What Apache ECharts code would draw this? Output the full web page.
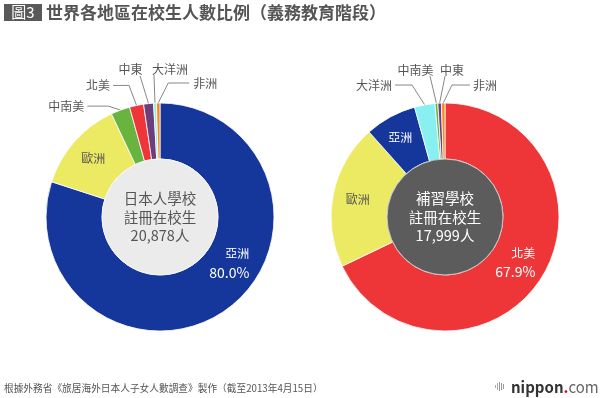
<!DOCTYPE html>
<html>
<head>
<meta charset="utf-8">
<script src="https://cdn.jsdelivr.net/npm/echarts@6/dist/echarts.min.js"></script>
<style>
html,body{margin:0;padding:0;background:#fff;}
#chart{width:600px;height:398px;}
</style>
</head>
<body>
<div id="chart"></div>
<script>
// ---- data ----
const leftNames = ['亞洲', '歐洲', '中南美', '北美', '中東', '大洋洲', '非洲'];
const leftValues = [80.0, 13.0, 2.7, 2.0, 1.4, 0.4, 0.5];
const rightNames = ['北美', '歐洲', '亞洲', '大洋洲', '中南美', '中東', '非洲'];
const rightValues = [67.9, 20.5, 7.3, 2.9, 0.4, 0.5, 0.5];
const leftCenterText = ['日本人學校', '註冊在校生', '20,878人'];
const rightCenterText = ['補習學校', '註冊在校生', '17,999人'];
const titleText = '世界各地區在校生人數比例（義務教育階段）';
const figLabel = '圖3';
const sourceText = '根據外務省《旅居海外日本人子女人數調查》製作（截至2013年4月15日）';

// ---- styles ----
const FONT = '"Noto Sans CJK TC", "Noto Sans CJK SC", sans-serif';
const regionColors = {
  '亞洲': '#15369a', '歐洲': '#ece963', '中南美': '#69b33f', '北美': '#ee3638',
  '中東': '#6c3e7c', '大洋洲': '#88f0f0', '非洲': '#f68a1f'
};
const insideLabels = {
  left: {'亞洲': {color: '#fff', pct: true, dx: 17, dy: -26}, '歐洲': {color: '#555', dx: 0, dy: 0}},
  right: {'北美': {color: '#fff', pct: true, dx: -5, dy: -2}, '歐洲': {color: '#555', dx: 0, dy: 0}, '亞洲': {color: '#fff', dx: -2, dy: -1}}
};
// outside label guides, offsets relative to slice edge point
const outsideLayout = {
  left: {
    '中南美': {pts: [[-12, -4], [-33, -4]], text: [-36, -4], align: 'right'},
    '北美': {pts: [[-7.5, -20], [-23.5, -20]], text: [-26.5, -20], align: 'right'},
    '中東': {pts: [[-8.5, -27.6]], text: [-18, -34], align: 'center'},
    '大洋洲': {pts: [[-1, -28]], text: [-3, -34], align: 'left'},
    '非洲': {pts: [[10, -20], [31, -20]], text: [35, -20], align: 'left'}
  },
  right: {
    '大洋洲': {pts: [[-12.7, -19.8], [-29.7, -19.8]], text: [-32.7, -19.8], align: 'right'},
    '中南美': {pts: [[-6.4, -27.3]], text: [-21, -33.3], align: 'center'},
    '中東': {pts: [[5.4, -27]], text: [12.4, -33], align: 'center'},
    '非洲': {pts: [[8.8, -18], [26.8, -18]], text: [29.8, -18], align: 'left'}
  }
};

function buildData(names, values, side) {
  return names.map((n, i) => {
    const ins = insideLabels[side][n];
    const item = {name: n, value: values[i], itemStyle: {color: regionColors[n]}};
    if (ins) {
      item.label = {
        position: 'inside', color: ins.color, fontSize: 12, fontFamily: FONT,
        formatter: ins.pct ? (p => '{a|' + p.name + '}\n{p|' + Number(p.value).toFixed(1) + '%}') : '{b}',
        rich: {
          a: {color: ins.color, fontSize: 12, fontFamily: FONT, align: 'right', lineHeight: 19},
          p: {color: ins.color, fontSize: 14, fontFamily: FONT, align: 'right', lineHeight: 19}
        }
      };
      item.labelLine = {show: false};
    } else {
      item.label = {position: 'outside', color: '#555', fontSize: 12, fontFamily: FONT, formatter: '{b}'};
      item.labelLine = {show: true, length: 10, length2: 10, lineStyle: {color: '#888', width: 1}};
    }
    return item;
  });
}

function makeLayout(names, side) {
  return function (params) {
    const n = names[params.dataIndex];
    const ins = insideLabels[side][n];
    if (ins) return {dx: ins.dx, dy: ins.dy};
    const cfg = outsideLayout[side][n];
    if (!cfg || !params.labelLinePoints) return {};
    const e = params.labelLinePoints[0];
    const pts = [[e[0], e[1]]].concat(cfg.pts.map(p => [e[0] + p[0], e[1] + p[1]]));
    return {
      x: e[0] + cfg.text[0], y: e[1] + cfg.text[1],
      align: cfg.align, verticalAlign: 'middle',
      labelLinePoints: pts
    };
  };
}

function donut(center, names, values, side) {
  return {
    type: 'pie', center: center, radius: [58, 114], startAngle: 90, clockwise: true,
    avoidLabelOverlap: false, silent: true, animation: false,
    itemStyle: {borderColor: '#fff', borderWidth: 0.8},
    data: buildData(names, values, side),
    labelLayout: makeLayout(names, side)
  };
}

function hub(center, lines, fill, textColor, border) {
  return {
    type: 'pie', center: center, radius: [0, 58], silent: true, animation: false,
    itemStyle: {color: fill, borderColor: border, borderWidth: 1},
    label: {
      position: 'center', formatter: lines.join('\n'), color: textColor,
      fontSize: 14.5, lineHeight: 18.5, fontFamily: FONT
    },
    labelLine: {show: false},
    data: [{name: 'hub', value: 1}]
  };
}

const chart = echarts.init(document.getElementById('chart'), null, {renderer: 'canvas'});
chart.setOption({
  backgroundColor: '#fff',
  animation: false,
  series: [
    donut([160, 217], leftNames, leftValues, 'left'),
    hub([160, 217], leftCenterText, '#ebebeb', '#555', '#f6f6f6'),
    donut([445, 217], rightNames, rightValues, 'right'),
    hub([445, 217], rightCenterText, '#5c5c5c', '#fff', '#c8c8c8')
  ],
  graphic: [
    {type: 'rect', shape: {x: 4, y: 4, width: 38, height: 17}, style: {fill: '#595959'}},
    {type: 'text', x: 23, y: 12.5, style: {text: figLabel, fill: '#fff', font: '15px ' + FONT, textAlign: 'center', textVerticalAlign: 'middle'}},
    {type: 'text', x: 46, y: 12.5, style: {text: titleText, fill: '#555', font: 'bold 17px ' + FONT, textVerticalAlign: 'middle'}},
    {type: 'text', x: 4, y: 388, style: {text: sourceText, fill: '#555', font: '9.7px ' + FONT, textVerticalAlign: 'middle'}},
    {type: 'group', x: 495, y: 382, children: [
      {type: 'rect', shape: {x: 0, y: 3, width: 1, height: 3}, style: {fill: '#aaa'}},
      {type: 'rect', shape: {x: 2, y: 1, width: 1, height: 7}, style: {fill: '#aaa'}},
      {type: 'rect', shape: {x: 4, y: 0, width: 1, height: 9}, style: {fill: '#999'}},
      {type: 'rect', shape: {x: 6, y: 1, width: 1, height: 7}, style: {fill: '#999'}},
      {type: 'rect', shape: {x: 8, y: 2, width: 1, height: 5}, style: {fill: '#999'}}
    ]},
    {type: 'text', x: 511, y: 387, style: {
      text: '{n|nippon}{d|.}{c|com}', textVerticalAlign: 'middle',
      rich: {
        n: {fill: '#333', font: 'bold 15px ' + FONT},
        d: {fill: '#e60012', font: 'bold 15px ' + FONT},
        c: {fill: '#666', font: '15px ' + FONT}
      }
    }}
  ]
});
</script>
</body>
</html>
